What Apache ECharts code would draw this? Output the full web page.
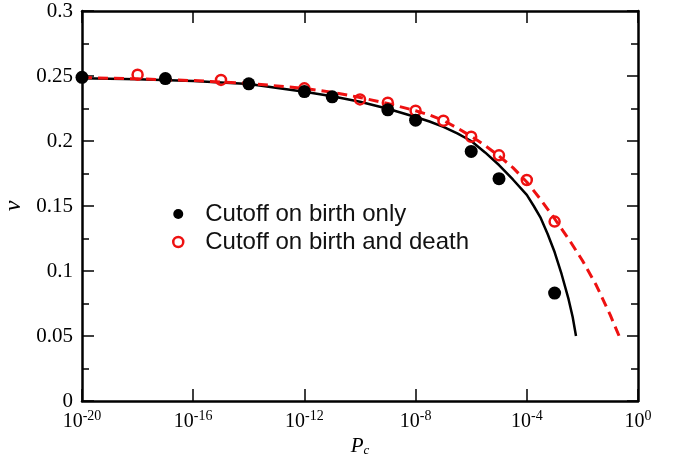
<!DOCTYPE html>
<html>
<head>
<meta charset="utf-8">
<style>
  html, body { margin: 0; padding: 0; background: #fff; }
  #chart { width: 678px; height: 462px; }
</style>
<script src="https://cdn.jsdelivr.net/npm/echarts@6/dist/echarts.min.js"></script>
</head>
<body>
<div id="chart"></div>
<script>
// x values are log10(Pc)
var xTicks = [-20, -16, -12, -8, -4, 0];
var yTicks = [0, 0.05, 0.1, 0.15, 0.2, 0.25, 0.3];

// symbols
var birthOnlyX = [-20, -17, -14, -12, -11, -9, -8, -6, -5, -3];
var birthOnlyV = [0.249, 0.248, 0.244, 0.238, 0.234, 0.224, 0.216, 0.192, 0.171, 0.083];
var birthDeathX = [-18, -15, -12, -10, -9, -8, -7, -6, -5, -4, -3];
var birthDeathV = [0.251, 0.247, 0.2405, 0.232, 0.2295, 0.2233, 0.2156, 0.2033, 0.189, 0.170, 0.138];

// theory curves
var curveSolidX = [-20, -18, -16, -14, -12, -11, -10, -9, -8, -7.5, -7, -6.5, -6, -5.5, -5, -4.5, -4, -3.75, -3.5, -3.25, -3, -2.75, -2.5, -2.35, -2.23];
var curveSolidV = [0.2482, 0.2475, 0.2462, 0.2438, 0.2378, 0.2345, 0.2302, 0.2248, 0.2185, 0.215, 0.2108, 0.2058, 0.2, 0.1912, 0.1815, 0.1704, 0.1585, 0.15, 0.1408, 0.1285, 0.1146, 0.0977, 0.0785, 0.0646, 0.05];
var curveDashX = [-20, -18, -16, -14, -12, -11, -10, -9, -8, -7.5, -7, -6.5, -6, -5.5, -5, -4.5, -4, -3.5, -3, -2.5, -2, -1.5, -1, -0.68];
var curveDashV = [0.2488, 0.2478, 0.2465, 0.2443, 0.2405, 0.2375, 0.2335, 0.2288, 0.2233, 0.22, 0.2158, 0.21, 0.2036, 0.1965, 0.1885, 0.1795, 0.1685, 0.155, 0.1402, 0.1248, 0.1081, 0.089, 0.0662, 0.05];

var RED = '#ee1111';

function pairs(xs, ys) {
    return xs.map(function (x, i) { return [x, ys[i]]; });
}

var chart = echarts.init(document.getElementById('chart'));

var serif = '"Liberation Serif", "DejaVu Serif", serif';
var sans = '"Liberation Sans", Arial, sans-serif';

var frame = { onZero: false, lineStyle: { color: '#000', width: 2.5 } };

chart.setOption({
    animation: false,
    backgroundColor: '#fff',
    grid: { left: 82, right: 40, top: 11, bottom: 61, containLabel: false, outerBoundsMode: 'none' },
    legend: {
        orient: 'vertical',
        left: 167,
        top: 197,
        itemWidth: 44,
        itemHeight: 10,
        itemGap: 4,
        textStyle: { fontFamily: sans, fontSize: 24, color: '#111', lineHeight: 23 },
        data: [
            { name: 'Cutoff on birth only', icon: 'circle', itemStyle: { color: '#000', opacity: 1 } },
            { name: 'Cutoff on birth and death', icon: 'circle',
              itemStyle: { color: '#fff', borderColor: RED, borderWidth: 2.5, opacity: 1 } }
        ]
    },
    xAxis: [{
        type: 'value',
        min: -20, max: 0, interval: 4,
        position: 'bottom',
        name: '{p|P}{c|c}',
        nameLocation: 'middle',
        nameGap: 35,
        nameTextStyle: {
            rich: {
                p: { fontFamily: serif, fontStyle: 'italic', fontSize: 21, color: '#000' },
                c: { fontFamily: serif, fontStyle: 'italic', fontSize: 13, color: '#000', padding: [0, 0, -8, 0] }
            }
        },
        axisLine: frame,
        axisTick: { inside: true, length: 12, lineStyle: { color: '#000', width: 1.5 } },
        splitLine: { show: false },
        axisLabel: {
            margin: 8,
            formatter: function (v) { return '{b|10}{s|' + v + '}'; },
            rich: {
                b: { fontFamily: serif, fontSize: 20, color: '#000' },
                s: { fontFamily: serif, fontSize: 14, color: '#000', padding: [0, 0, 11, 0] }
            }
        }
    }, {
        type: 'value',
        min: -20, max: 0, interval: 4,
        position: 'top',
        axisLine: frame,
        axisTick: { inside: true, length: 12, lineStyle: { color: '#000', width: 1.5 } },
        axisLabel: { show: false },
        splitLine: { show: false }
    }],
    yAxis: [{
        type: 'value',
        min: 0, max: 0.3, interval: 0.05,
        position: 'left',
        name: 'v',
        nameLocation: 'middle',
        nameRotate: 90,
        nameGap: 54,
        nameTextStyle: { fontFamily: serif, fontStyle: 'italic', fontSize: 24, color: '#000' },
        axisLine: frame,
        axisTick: { inside: true, length: 12, lineStyle: { color: '#000', width: 1.5 } },
        minorTick: { show: true, splitNumber: 2, length: 7, lineStyle: { color: '#000', width: 1.5 } },
        splitLine: { show: false },
        axisLabel: {
            margin: 9,
            fontFamily: serif, fontSize: 21, color: '#000',
            formatter: function (v) { return String(+v.toFixed(2)); }
        }
    }, {
        type: 'value',
        min: 0, max: 0.3, interval: 0.05,
        position: 'right',
        axisLine: frame,
        axisTick: { inside: true, length: 11, lineStyle: { color: '#000', width: 1.5 } },
        minorTick: { show: true, splitNumber: 2, length: 7, lineStyle: { color: '#000', width: 1.5 } },
        axisLabel: { show: false },
        splitLine: { show: false }
    }],
    series: [
        {
            name: 'theory birth only',
            type: 'line',
            data: pairs(curveSolidX, curveSolidV),
            symbol: 'none',
            lineStyle: { color: '#000', width: 2.5, join: 'round' },
            z: 2
        },
        {
            name: 'theory birth and death',
            type: 'line',
            data: pairs(curveDashX, curveDashV),
            symbol: 'none',
            lineStyle: { color: RED, width: 3, type: [10, 6] },
            z: 2
        },
        {
            name: 'Cutoff on birth and death',
            type: 'scatter',
            data: pairs(birthDeathX, birthDeathV),
            symbol: 'circle',
            symbolSize: 10,
            itemStyle: { color: 'rgba(255,255,255,0)', borderColor: RED, borderWidth: 2.5, opacity: 1 },
            z: 3
        },
        {
            name: 'Cutoff on birth only',
            type: 'scatter',
            data: pairs(birthOnlyX, birthOnlyV),
            symbol: 'circle',
            symbolSize: 13,
            itemStyle: { color: '#000', opacity: 1 },
            z: 4
        }
    ]
});
</script>
</body>
</html>
